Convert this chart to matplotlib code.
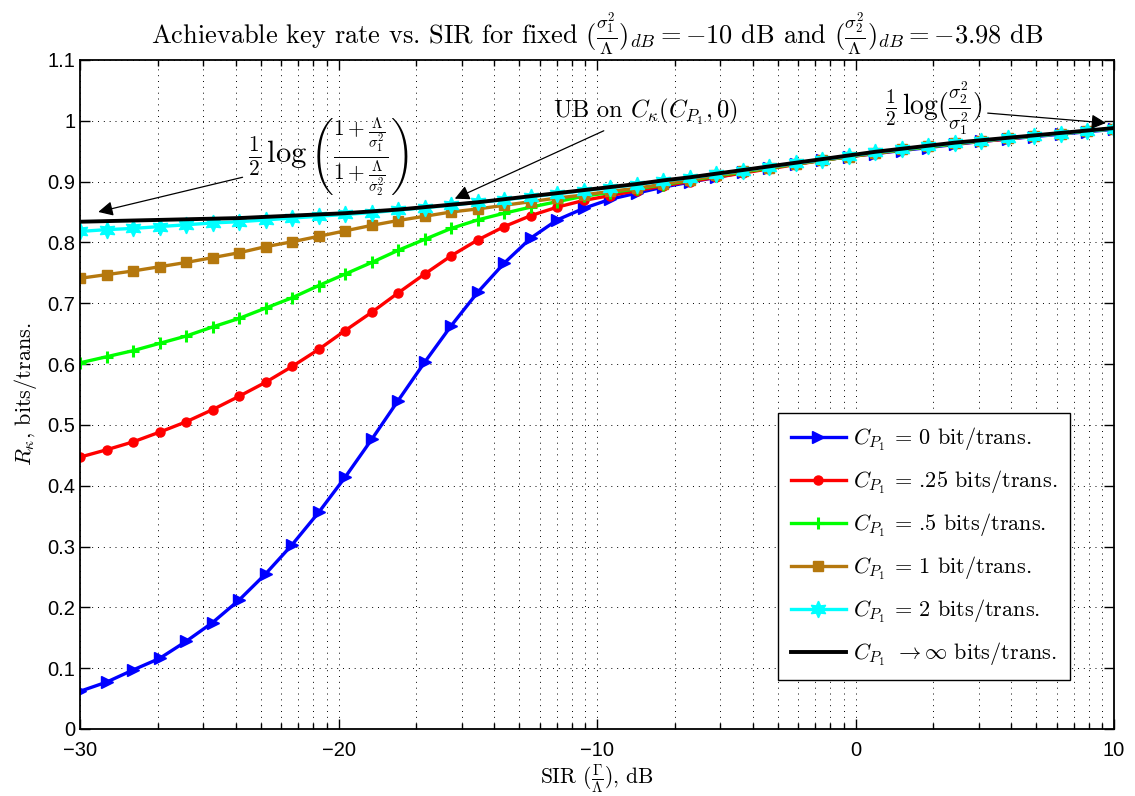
import numpy as np
import matplotlib
matplotlib.use("Agg")
import matplotlib.pyplot as plt

plt.rcParams["mathtext.fontset"] = "cm"
plt.rcParams["font.family"] = ["Liberation Sans", "DejaVu Sans"]
plt.rcParams["axes.unicode_minus"] = True

#### Data: SIR grid (40 points) and key rate for each C_P1

sir = np.linspace(-30, 10, 40)

rate_c0 = [0.062, 0.077, 0.097, 0.116, 0.144, 0.175, 0.212, 0.255, 0.303, 0.356,
           0.414, 0.476, 0.540, 0.603, 0.663, 0.718, 0.766, 0.807, 0.837, 0.856,
           0.871, 0.881, 0.891, 0.899, 0.907, 0.915, 0.922, 0.929, 0.935, 0.941,
           0.946, 0.951, 0.956, 0.961, 0.966, 0.970, 0.974, 0.978, 0.982, 0.986]

rate_c025 = [0.447, 0.459, 0.472, 0.488, 0.505, 0.525, 0.547, 0.570, 0.596, 0.624,
             0.655, 0.685, 0.717, 0.748, 0.778, 0.804, 0.826, 0.844, 0.858, 0.869,
             0.877, 0.885, 0.893, 0.900, 0.907, 0.914, 0.921, 0.928, 0.935, 0.941,
             0.946, 0.952, 0.957, 0.962, 0.966, 0.970, 0.975, 0.979, 0.983, 0.987]

rate_c05 = [0.602, 0.612, 0.622, 0.634, 0.646, 0.661, 0.675, 0.692, 0.709, 0.729,
            0.748, 0.767, 0.787, 0.805, 0.823, 0.837, 0.848, 0.858, 0.867, 0.876,
            0.882, 0.888, 0.895, 0.902, 0.909, 0.916, 0.922, 0.929, 0.935, 0.941,
            0.947, 0.952, 0.957, 0.962, 0.967, 0.971, 0.975, 0.979, 0.983, 0.987]

rate_c1 = [0.741, 0.747, 0.753, 0.760, 0.767, 0.775, 0.783, 0.793, 0.801, 0.810,
           0.819, 0.828, 0.836, 0.843, 0.850, 0.855, 0.861, 0.867, 0.873, 0.878,
           0.884, 0.889, 0.896, 0.903, 0.910, 0.917, 0.923, 0.929, 0.935, 0.941,
           0.947, 0.953, 0.958, 0.963, 0.967, 0.971, 0.975, 0.979, 0.983, 0.987]

rate_c2 = [0.818, 0.821, 0.823, 0.826, 0.829, 0.832, 0.834, 0.837, 0.840, 0.843,
           0.846, 0.849, 0.853, 0.857, 0.861, 0.866, 0.870, 0.875, 0.880, 0.885,
           0.890, 0.895, 0.901, 0.906, 0.912, 0.918, 0.924, 0.930, 0.936, 0.942,
           0.948, 0.953, 0.958, 0.963, 0.967, 0.971, 0.975, 0.979, 0.983, 0.987]

rate_inf = [0.834, 0.835, 0.836, 0.837, 0.838, 0.839, 0.840, 0.842, 0.844, 0.846,
            0.848, 0.851, 0.854, 0.858, 0.862, 0.866, 0.871, 0.876, 0.881, 0.886,
            0.891, 0.896, 0.902, 0.907, 0.913, 0.919, 0.925, 0.931, 0.937, 0.943,
            0.949, 0.954, 0.959, 0.964, 0.968, 0.972, 0.976, 0.980, 0.984, 0.988]

labels = [r"$C_{P_1}$ = 0 bit/trans.",
          r"$C_{P_1}$ = .25 bits/trans.",
          r"$C_{P_1}$ = .5 bits/trans.",
          r"$C_{P_1}$ = 1 bit/trans.",
          r"$C_{P_1}$ = 2 bits/trans.",
          r"$C_{P_1}$ $\rightarrow\infty$ bits/trans."]

#### Plot

fig = plt.figure(figsize=(11.35, 7.96), dpi=100)
ax = fig.add_axes([0.0705, 0.0842, 0.911, 0.8405])

serif = "cmr10"
lw = 2.4
hexagram = (6, 1, 0)

ax.plot(sir, rate_c0, color="#0000ff", lw=lw, marker=">", ms=9, label=labels[0])
ax.plot(sir, rate_c025, color="#ff0000", lw=lw, marker="o", ms=6.5, label=labels[1])
ax.plot(sir, rate_c05, color="#00ff00", lw=lw, marker="+", ms=8, mew=2.2, label=labels[2])
ax.plot(sir, rate_c1, color="#b5780e", lw=lw, marker="s", ms=6.5, label=labels[3])
ax.plot(sir, rate_c2, color="#00ffff", lw=lw, marker=hexagram, ms=12, label=labels[4])
ax.plot(sir, rate_inf, color="black", lw=2.8, label=labels[5])

ax.set_xlim(-30, 10)
ax.set_ylim(0, 1.1)
ax.set_xticks([-30, -20, -10, 0, 10])
ax.set_yticks(np.arange(0, 1.11, 0.1))
ax.set_yticklabels(["0", "0.1", "0.2", "0.3", "0.4", "0.5", "0.6", "0.7", "0.8",
                    "0.9", "1", "1.1"])
minor = [d + 10 * np.log10(k) for d in [-30, -20, -10, 0] for k in range(2, 10)]
ax.set_xticks(minor, minor=True)
ax.tick_params(which="both", direction="in", top=True, right=True, labelsize=14.5,
               width=1.0)
ax.tick_params(which="major", length=7)
ax.tick_params(which="minor", length=4)
ax.tick_params(axis="x", which="major", pad=9)
ax.grid(True, which="both", axis="x", linestyle=(0, (1, 5)), color="black", lw=0.7)
ax.grid(True, which="major", axis="y", linestyle=(0, (1, 5)), color="black", lw=0.7)
for sp in ax.spines.values():
    sp.set_linewidth(1.3)

ax.set_title(r"Achievable key rate vs. SIR for fixed $(\frac{\sigma_1^2}{\Lambda})_{dB}=-10$ dB and "
             r"$(\frac{\sigma_2^2}{\Lambda})_{dB}=-3.98$ dB",
             fontfamily=serif, fontsize=19, pad=12)
ax.set_xlabel(r"SIR $(\frac{\Gamma}{\Lambda})$, dB", fontfamily=serif, fontsize=15.5, labelpad=1)
ax.set_ylabel(r"$R_\kappa$, bits/trans.", fontfamily=serif, fontsize=16, labelpad=6)

arrow = dict(arrowstyle="-|>", color="black", lw=0.9, mutation_scale=22)
ax.annotate(r"$\frac{1}{2}\,\log\left(\frac{1+\frac{\Lambda}{\sigma_1^2}}{1+\frac{\Lambda}{\sigma_2^2}}\right)$",
            xy=(-29.4, 0.849), xytext=(-23.5, 0.941), fontsize=22,
            ha="left", va="center", arrowprops=arrow)
ax.annotate(r"UB on $C_\kappa(C_{P_1},0)$", xy=(-15.6, 0.870), xytext=(-11.7, 0.99),
            fontsize=17.5, fontfamily=serif, ha="left", va="bottom", arrowprops=arrow)
ax.annotate(r"$\frac{1}{2}\,\log(\frac{\sigma_2^2}{\sigma_1^2})$", xy=(9.8, 0.996),
            xytext=(4.9, 1.02), fontsize=20, ha="right", va="center", arrowprops=arrow)

leg = ax.legend(loc="lower right", bbox_to_anchor=(0.957, 0.073), borderaxespad=0,
                prop={"family": serif, "size": 16},
                handlelength=2.5, labelspacing=0.7, borderpad=0.55, handletextpad=0.3,
                fancybox=False, framealpha=1, edgecolor="black")
leg.get_frame().set_linewidth(1.0)

fig.savefig("out.png", dpi=100)
